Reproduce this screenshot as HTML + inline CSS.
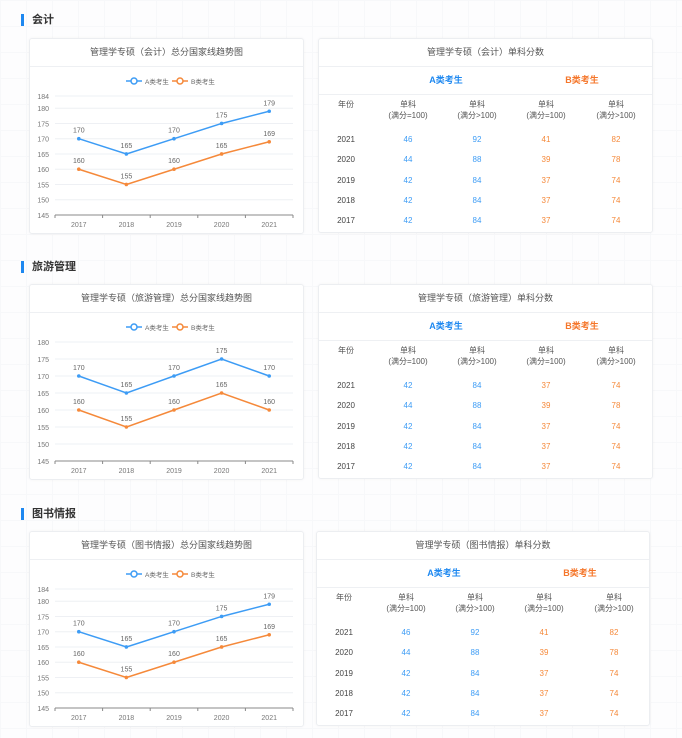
<!DOCTYPE html>
<html><head><meta charset="utf-8">
<style>
body{margin:0;width:682px;height:738px;overflow:hidden;background:#fdfdfe;font-family:"Liberation Sans","Noto Sans CJK SC",sans-serif;position:relative;
background-image:linear-gradient(#f7f8fa 1px,transparent 1px),linear-gradient(90deg,#f7f8fa 1px,transparent 1px);background-size:26px 26px;}
.sec{position:absolute;left:21px;font-size:11px;font-weight:bold;color:#333;padding-left:8px;border-left:3px solid #1e88f0;line-height:12px;}
.card{position:absolute;background:#fff;border:1px solid #eceef1;border-radius:3px;box-shadow:0 0 3px rgba(0,0,0,0.04);}
.ct{position:absolute;left:0;right:0;top:6px;text-align:center;font-size:9px;color:#555;}
.sep{position:absolute;left:0;right:0;height:1px;background:#eef0f3;}
.t{position:absolute;font-size:8px;transform:translateX(-50%);white-space:nowrap;text-align:center;line-height:11px;}
svg text{font-family:"Liberation Sans","Noto Sans CJK SC",sans-serif;}
</style></head><body>
<div class="sec" style="top:14px">会计</div>
<div class="sec" style="top:261px">旅游管理</div>
<div class="sec" style="top:508px">图书情报</div>
<div id="root"></div>
<script>
const categories=['2017','2018','2019','2020','2021'];
const seriesA1=[170,165,170,175,179];
const seriesB1=[160,155,160,165,169];
const seriesA2=[170,165,170,175,170];
const seriesB2=[160,155,160,165,160];
const seriesA3=[170,165,170,175,179];
const seriesB3=[160,155,160,165,169];
const ticks1=[145,150,155,160,165,170,175,180,184];
const ticks2=[145,150,155,160,165,170,175,180];
const ticks3=[145,150,155,160,165,170,175,180,184];
const tblYears=['2021','2020','2019','2018','2017'];
const tblA1=[46,44,42,42,42],tblA2=[92,88,84,84,84],tblB1=[41,39,37,37,37],tblB2=[82,78,74,74,74];
const tbl2A1=[42,44,42,42,42],tbl2A2=[84,88,84,84,84],tbl2B1=[37,39,37,37,37],tbl2B2=[74,78,74,74,74];
const tbl3A1=[46,44,42,42,42],tbl3A2=[92,88,84,84,84],tbl3B1=[41,39,37,37,37],tbl3B2=[82,78,74,74,74];
const root=document.getElementById('root');
const NS='http://www.w3.org/2000/svg';
function mk(tag,attrs,parent){const e=document.createElementNS(NS,tag);for(const k in attrs)e.setAttribute(k,attrs[k]);parent.appendChild(e);return e;}
function chart(name,title,left,top,w,A,B,ticks){
 const card=document.createElement('div');card.className='card';
 
 
 card.style.cssText=`left:${left}px;top:${top}px;width:${w}px;height:194px`;
 card.innerHTML=`<div class="ct">${title}</div><div class="sep" style="top:27px"></div>`;
 root.appendChild(card);
 const svg=mk('svg',{width:w,height:194,style:'position:absolute;left:0;top:0'},card);
 
 
 const x0=25,x1=263,yT=57,yB=176,mn=ticks[0],mx=ticks[ticks.length-1];
 const ys=v=>yB-(v-mn)/(mx-mn)*(yB-yT);
 const bw=(x1-x0)/categories.length;const xs=i=>x0+bw*(i+0.5);
 ticks.forEach(t=>{const y=ys(t);
  if(t!==mn)mk('line',{x1:x0,x2:x1,y1:y,y2:y,stroke:'#eef0f4','stroke-width':1},svg);
  const tx=mk('text',{x:x0-6,y:y+3,'text-anchor':'end','font-size':7,fill:'#777'},svg);tx.textContent=t;
  });
 mk('line',{x1:x0,x2:x1,y1:yB,y2:yB,stroke:'#888','stroke-width':1},svg);
 for(let i=0;i<=categories.length;i++)mk('line',{x1:x0+bw*i,x2:x0+bw*i,y1:yB,y2:yB+3,stroke:'#888'},svg);
 categories.forEach((c,i)=>{const tx=mk('text',{x:xs(i),y:yB+12,'text-anchor':'middle','font-size':7,fill:'#777'},svg);tx.textContent=c;
  });
 [[A,'#3d9cf5','A类考生',96],[B,'#f5893a','B类考生',142]].forEach(([d,col,lab,lx])=>{
  const g=mk('g',{},svg);
  mk('line',{x1:lx,x2:lx+16,y1:42,y2:42,stroke:col,'stroke-width':1.5},g);
  mk('circle',{cx:lx+8,cy:42,r:3,fill:'#fff',stroke:col,'stroke-width':1.5},g);
  const t=mk('text',{x:lx+19,y:45,'font-size':6.5,fill:'#666'},g);t.textContent=lab;
  const p=mk('polyline',{points:d.map((v,i)=>xs(i)+','+ys(v)).join(' '),fill:'none',stroke:col,'stroke-width':1.5},svg);
  
  d.forEach((v,i)=>{const c=mk('circle',{cx:xs(i),cy:ys(v),r:1.8,fill:col},svg);
   
   const t=mk('text',{x:xs(i),y:ys(v)-6,'text-anchor':'middle','font-size':7,fill:'#666'},svg);t.textContent=v;
   });
 });
}
function table(name,title,left,top,w,a1,a2,b1,b2){
 const card=document.createElement('div');card.className='card';
 
 
 card.style.cssText=`left:${left}px;top:${top}px;width:${w}px;height:193px`;
 const cx=[27,89,158,227,297];
 let h=`<div class="ct">${title}</div><div class="sep" style="top:27px"></div><div class="sep" style="top:55px"></div>`;
 h+=`<div class="t" style="left:127px;top:36px;font-size:9px;font-weight:bold;color:#1e88f0">A类考生</div>`;
 h+=`<div class="t" style="left:263px;top:36px;font-size:9px;font-weight:bold;color:#f5762a">B类考生</div>`;
 h+=`<div class="t" style="left:${cx[0]}px;top:60px;color:#555">年份</div>`;
 ['(满分=100)','(满分>100)','(满分=100)','(满分>100)'].forEach((s,i)=>{h+=`<div class="t" style="left:${cx[i+1]}px;top:60px;color:#555">单科<br>${s}</div>`;});
 tblYears.forEach((y,r)=>{const ty=95+r*20.3;
  h+=`<div class="t" style="left:${cx[0]}px;top:${ty}px;color:#444">${y}</div>`;
  [[a1,'#3d9cf5'],[a2,'#3d9cf5'],[b1,'#f5893a'],[b2,'#f5893a']].forEach(([arr,c],i)=>{h+=`<div class="t" style="left:${cx[i+1]}px;top:${ty}px;color:${c}">${arr[r]}</div>`;});
 });
 card.innerHTML=h;root.appendChild(card);
}
chart('accounting','管理学专硕（会计）总分国家线趋势图',29,38,273,seriesA1,seriesB1,ticks1);
chart('tourism','管理学专硕（旅游管理）总分国家线趋势图',29,284,273,seriesA2,seriesB2,ticks2);
chart('library','管理学专硕（图书情报）总分国家线趋势图',29,531,273,seriesA3,seriesB3,ticks3);
table('accounting','管理学专硕（会计）单科分数',318,38,333,tblA1,tblA2,tblB1,tblB2);
table('tourism','管理学专硕（旅游管理）单科分数',318,284,333,tbl2A1,tbl2A2,tbl2B1,tbl2B2);
table('library','管理学专硕（图书情报）单科分数',316,531,332,tbl3A1,tbl3A2,tbl3B1,tbl3B2);
</script>
</body></html>
